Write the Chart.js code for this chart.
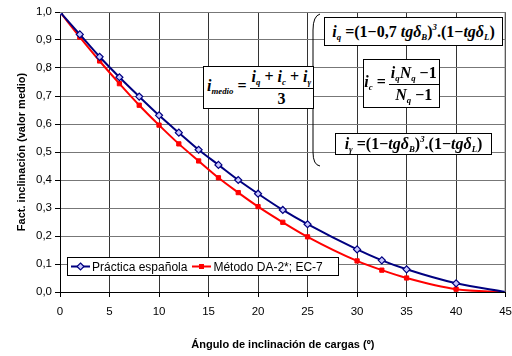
<!DOCTYPE html>
<html>
<head>
<meta charset="utf-8">
<script src="https://cdn.jsdelivr.net/npm/chart.js@4/dist/chart.umd.min.js"></script>
<style>
  html, body { margin: 0; padding: 0; background: #fff; }
  #wrap { position: relative; width: 512px; height: 356px; overflow: hidden; }
  canvas { position: absolute; left: 0; top: 0; }
  .box { position: absolute; background: #fff; border: 1px solid #000; box-sizing: border-box;
         font-family: "Liberation Serif", "DejaVu Serif", serif; font-weight: bold; font-style: italic;
         color: #000; display: flex; align-items: center; justify-content: center; white-space: nowrap; }
  .box > span.in { display: inline-block; line-height: 1; }
  .up { font-style: normal; }
  sub { font-size: 55%; vertical-align: -0.3em; line-height: 0; }
  sup { font-size: 55%; vertical-align: 0.75em; line-height: 0; }
  .frac { display: inline-block; text-align: center; vertical-align: middle; margin-left: 3px; }
  .frac .num { display: block; border-bottom: 1px solid #000; padding: 0 2px 2px 2px; line-height: 1.1; }
  .frac .den { display: block; line-height: 1.1; padding-top: 1px; }
  #legend { position: absolute; left: 67px; top: 257px; width: 272px; height: 19px; background: #fff;
            border: 1px solid #000; box-sizing: border-box; font-family: "Liberation Sans", Arial, sans-serif;
            font-size: 12px; display: flex; align-items: center; }
  #legend .item { display: flex; align-items: center; margin-left: 3px; margin-right: 2px; }
  #legend svg { margin-right: 2px; }
</style>
</head>
<body>
<div id="wrap">
  <canvas id="c" width="520" height="356"></canvas>
  <svg width="512" height="356" style="position:absolute;left:0;top:0;pointer-events:none">
    <path d="M 320 14 Q 313 16 313 30 L 313 86 Q 313 92 309 93 Q 313 94 313 100 L 313 152 Q 313 165 320 166" fill="none" stroke="#000" stroke-width="1"/>
  </svg>
  <div class="box" style="left:203px;top:66px;width:111px;height:43px;font-size:16px;justify-content:flex-start;padding-left:3px;">
    <span class="in">i<sub>medio</sub>&nbsp;<span class="up">=</span><span class="frac"><span class="num">i<sub>q</sub> <span class="up">+</span> i<sub>c</sub> <span class="up">+</span> i<sub>γ</sub></span><span class="den up">3</span></span></span>
  </div>
  <div class="box" style="left:324px;top:17px;width:179px;height:29px;font-size:16px;">
    <span class="in">i<sub>q</sub>&nbsp;<span class="up">=(1&minus;0,7</span>&nbsp;tgδ<sub>B</sub><span class="up">)</span><sup>3</sup><span class="up">.(1&minus;</span>tgδ<sub>L</sub><span class="up">)</span></span>
  </div>
  <div class="box" style="left:363px;top:59px;width:77px;height:49px;font-size:16px;">
    <span class="in">i<sub>c</sub>&nbsp;<span class="up">=</span><span class="frac"><span class="num">i<sub>q</sub>N<sub>q</sub> <span class="up">&minus;1</span></span><span class="den">N<sub>q</sub> <span class="up">&minus;1</span></span></span></span>
  </div>
  <div class="box" style="left:335px;top:133px;width:157px;height:22px;font-size:16px;">
    <span class="in">i<sub>γ</sub>&nbsp;<span class="up">=(1&minus;</span>tgδ<sub>B</sub><span class="up">)</span><sup>3</sup><span class="up">.(1&minus;</span>tgδ<sub>L</sub><span class="up">)</span></span>
  </div>
  <div id="legend"></div>
</div>
<script>
// ---- data ----
const angles = [0, 2, 4, 6, 8, 10, 12, 14, 16, 18, 20, 22.5, 25, 30, 32.5, 35, 40, 45];
const practicaEspanola = [1.000, 0.920, 0.840, 0.767, 0.698, 0.631, 0.569, 0.508, 0.454, 0.400, 0.351, 0.293, 0.242, 0.152, 0.113, 0.081, 0.031, 0.000];
const metodoDA2 = [1.000, 0.910, 0.825, 0.744, 0.667, 0.596, 0.529, 0.468, 0.408, 0.355, 0.305, 0.249, 0.197, 0.111, 0.078, 0.050, 0.010, 0.000];
const seriesNames = ["Práctica española", "Método DA-2*; EC-7"];
const xTitle = "Ángulo de inclinación de cargas (º)";
const yTitle = "Fact. inclinación (valor medio)";

const toPts = (arr) => angles.map((a, i) => ({ x: a, y: arr[i] }));
const lastHidden = (r) => (ctx) => ctx.dataIndex === angles.length - 1 ? 0 : r;
const FONT = "'Liberation Sans', Arial, sans-serif";

new Chart(document.getElementById('c'), {
  type: 'line',
  data: {
    datasets: [
      { label: seriesNames[0], data: toPts(practicaEspanola), borderColor: '#000080', backgroundColor: '#c8c8ff',
        borderWidth: 2, pointStyle: 'rectRot', pointRadius: lastHidden(3.5), pointBorderColor: '#000080',
        pointBackgroundColor: '#c8c8ff', pointBorderWidth: 1.2, cubicInterpolationMode: 'monotone' },
      { label: seriesNames[1], data: toPts(metodoDA2), borderColor: '#ff0000', backgroundColor: '#ff0000',
        borderWidth: 2, pointStyle: 'rect', pointRadius: lastHidden(3), pointBorderColor: '#ff0000',
        pointBackgroundColor: '#ff0000', pointBorderWidth: 1, cubicInterpolationMode: 'monotone' }
    ]
  },
  options: {
    responsive: false,
    animation: false,
    layout: { padding: { left: 0, right: 0, top: 12, bottom: 4 } },
    plugins: { legend: { display: false }, tooltip: { enabled: false } },
    scales: {
      x: {
        type: 'linear', min: 0, max: 45,
        ticks: { stepSize: 5, color: '#000', font: { family: FONT, size: 11.5 }, padding: 8 },
        grid: { color: '#333', lineWidth: 1, tickLength: 5, tickColor: '#000' },
        border: { color: '#000', width: 1 },
        title: { display: true, text: xTitle, color: '#000', font: { family: FONT, size: 11, weight: 'bold' }, padding: 0 },
        afterFit: (s) => { s.height = 60; }
      },
      y: {
        min: 0, max: 1,
        ticks: { stepSize: 0.1, color: '#000', font: { family: FONT, size: 11.5 }, padding: 3,
                 callback: (v) => v.toFixed(1).replace('.', ',') },
        grid: { color: '#777', lineWidth: 1, tickLength: 5, tickColor: '#000' },
        border: { color: '#000', width: 1 },
        title: { display: true, text: yTitle, color: '#000', font: { family: FONT, size: 11, weight: 'bold' }, padding: { top: 15, bottom: 0 } },
        afterFit: (s) => { s.width = 60; }
      }
    }
  },
  plugins: [{
    id: 'frame',
    afterDraw(chart) {
      const { ctx, chartArea: a } = chart;
      ctx.save();
      ctx.strokeStyle = '#777';
      ctx.lineWidth = 1;
      ctx.beginPath();
      ctx.moveTo(a.left, a.top + 0.5); ctx.lineTo(a.right, a.top + 0.5);
      ctx.moveTo(a.right - 0.5, a.top); ctx.lineTo(a.right - 0.5, a.bottom);
      ctx.stroke();
      ctx.restore();
    }
  }]
});

// legend (HTML text)
const legend = document.getElementById('legend');
const symbols = [
  '<svg width="19" height="9"><line x1="0" y1="4.5" x2="19" y2="4.5" stroke="#000080" stroke-width="2"/><polygon points="9.5,1 13,4.5 9.5,8 6,4.5" fill="#c8c8ff" stroke="#000080" stroke-width="1.2"/></svg>',
  '<svg width="19" height="9"><line x1="0" y1="4.5" x2="19" y2="4.5" stroke="#ff0000" stroke-width="2"/><rect x="7" y="2" width="5" height="5" fill="#ff0000"/></svg>'
];
seriesNames.forEach((n, i) => {
  const d = document.createElement('div');
  d.className = 'item';
  d.innerHTML = symbols[i] + '<span>' + n + '</span>';
  legend.appendChild(d);
});
</script>
</body>
</html>
